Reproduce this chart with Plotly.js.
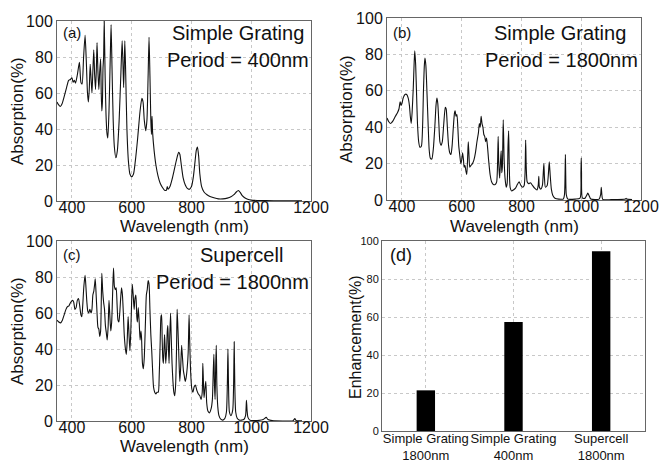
<!DOCTYPE html>
<html>
<head>
<meta charset="utf-8">
<script src="https://cdn.plot.ly/plotly-3.0.1.min.js"></script>
<style>html,body{margin:0;padding:0;background:#fff;}#chart{width:660px;height:466px;}</style>
</head>
<body>
<div id="chart"></div>
<script>
// Panel (a): Simple Grating, Period = 400nm
const wl_a = [350,355,361,367,374,382,389,395,400,404,408,412,418,425,430,434,439,444,448,452,455,458,461,464,467,470,473,476,479,482,484,487,490,493,496,498,500,502,504,506,508,511,514,517,520,524,528,531,534,538,542,547,552,558,564,568,571,573,575,577,580,584,589,594,600,606,612,620,628,634,638,642,647,651,655,658,661,664,666,668,670,675,681,688,695,703,710,716,719,722,728,735,742,750,757,761,766,772,779,786,793,800,806,812,816,820,824,828,834,842,852,862,875,890,905,920,932,942,950,957,963,970,978,988,1000,1020,1050,1100,1170];
const abs_a = [55,53.5,52.5,54,58,63,67,67.5,68.5,66,67,65.5,70,77,66,65,80,92,78,60,55,62,76,68,60,72,84,70,62,75,88,72,62,72,79,60,50,55,74,80,100,70,48,38,35,50,78,98,75,45,30,24,28,45,72,89,75,63,75,89,70,40,22,15,13.5,15,22,35,50,57,55,45,39,45,70,91,70,45,37,47,38,28,20,14,10,7.5,6,6,8,6.5,8,12,17,23,27,26,20,13,9,7,6.5,8,13,22,28,30,25,15,8,5,3.5,2.5,1.8,1.2,1.2,1.6,2.3,3.5,5,5.8,4.8,3,1.8,1,0.5,0.3,0.2,0.1,0.05];

// Panel (b): Simple Grating, Period = 1800nm
const wl_b = [350,356,362,370,378,385,390,394,397,400,404,410,416,421,425,428,431,434,438,441,443,446,449,452,456,460,465,469,472,475,477,480,484,488,491,495,500,505,510,514,517,520,523,527,531,535,540,545,548,552,556,560,564,568,572,576,578,581,584,587,590,594,597,600,603,606,608,611,614,617,620,622,624,627,631,636,641,646,651,656,659,662,665,668,671,674,677,680,683,686,690,695,700,706,712,717,720,722,724,727,730,732,734,736,739,742,745,749,752,755,757,759,762,767,773,780,786,792,798,804,809,812,814,816,819,824,830,837,844,852,856,858,860,865,870,873,875,877,880,886,890,893,896,900,905,912,925,940,944,946,947,948,950,955,980,996,999,1000,1001,1004,1013,1018,1022,1026,1032,1060,1065,1067,1069,1072,1100,1148,1150,1152,1170];
const abs_b = [45,43,42,43.5,46,48,50,54,52,53,56,58,58,56,52,46,42,48,62,76,82,74,58,42,32,29,29.5,40,60,74,78,74,58,40,28,23,22.5,28,40,52,56,53,44,32,30,32,42,51,50,40,30,26,25,30,40,48,49,46,47,40,30,24,20,22,26,22,18,19,16,14,24,32,26,18,19,20,22,26,32,37,42,40,46,42,40,36,35,32,34,30,22,14,10,8.5,8.5,10,20,35,20,12,22,27,15,18,44,22,12,7,9,30,38,20,7,5,5.5,6.5,8.5,10,8,7,8,15,33,18,10,9,9.5,8,6.5,5.5,8,13,7,6,8,15,20,12,7,8,14,21,14,6,2.5,1,0.5,0.5,3,15,25,15,3,0.5,0.5,1,15,23,15,1,1,2.5,3.8,2.5,0.5,0.5,3,7,3,0.3,0.2,0.5,1,0.5,0.2];

// Panel (c): Supercell, Period = 1800nm
const wl_c = [350,356,362,368,374,380,385,390,396,402,406,410,414,418,422,426,430,433,436,440,444,447,450,453,456,460,464,467,470,473,476,478,481,484,487,490,493,496,498,500,503,506,509,512,515,518,521,524,527,530,533,536,539,542,545,548,551,554,557,560,563,566,569,572,575,579,582,585,588,591,594,597,600,602,605,608,611,614,617,619,622,625,628,631,633,636,639,642,646,649,652,655,658,661,664,667,670,673,677,681,685,689,692,695,698,700,702,704,706,708,710,712,714,717,719,721,723,725,727,730,732,735,738,741,744,747,750,752,755,758,761,764,767,770,773,776,779,782,786,789,792,794,797,801,805,809,813,818,823,828,832,836,838,840,842,845,848,851,855,860,866,870,873,875,877,879,881,883,885,888,892,898,905,912,917,920,922,924,927,932,938,941,943,945,948,953,960,975,981,984,986,989,995,1010,1040,1050,1056,1070,1140,1146,1150,1170];
const abs_c = [56,55,54.5,56,59,62,63.5,64,66,67,66,62,63,67,68,64,59,58,64,75,81,74,66,61,60,62,60,62,70,72,76,79,70,60,52,51,47,50,65,82,72,66,62,53,49,45,52,67,58,50,55,70,85,75,73,74,65,56,55,60,68,74,70,60,48,40,37,45,58,48,39,50,68,76,70,62,68,70,58,55,63,55,45,50,46,32,29,35,55,70,73,78,76,62,48,39,28,19,16,15,16,16,25,42,58,59,45,35,32,40,48,40,32,40,50,53,40,32,45,60,48,32,22,16,14,20,40,62,50,35,22,30,42,35,28,25,22,24,30,38,59,45,28,18,16,19,20,17,15,14,12,16,32,22,13,18,22,10,5.5,4.5,7,12,28,37,20,12,30,42,20,8,3,1,0.5,1.5,5,20,40,20,5,3,6,20,44,20,5,1.5,0.5,0.8,3,11.5,6,2,0.5,0.2,0.8,2,0.8,0.2,0.2,1.3,0.3,0.1];

// Panel (d): enhancement
const categories = ["Simple Grating<br>1800nm", "Simple Grating<br>400nm", "Supercell<br>1800nm"];
const enhancement = [21.4, 57.4, 94.6];

const FONT = "Liberation Sans, Arial, sans-serif";
const W = 660, H = 466;
function dx(x0, x1){ return [x0/W, x1/W]; }
function dy(top, bottom){ return [1 - bottom/H, 1 - top/H]; }

const lineStyle = {color: "#111", width: 1.1, shape: "spline", smoothing: 0.6};
const traces = [
  {x: wl_a, y: abs_a, type: "scatter", mode: "lines", line: lineStyle, xaxis: "x", yaxis: "y", hoverinfo: "skip"},
  {x: wl_b, y: abs_b, type: "scatter", mode: "lines", line: lineStyle, xaxis: "x2", yaxis: "y2", hoverinfo: "skip"},
  {x: wl_c, y: abs_c, type: "scatter", mode: "lines", line: lineStyle, xaxis: "x3", yaxis: "y3", hoverinfo: "skip"},
  {x: categories, y: enhancement, type: "bar", marker: {color: "#000"}, xaxis: "x4", yaxis: "y4", hoverinfo: "skip"}
];

function wlAxis(dom, anchor){
  return {domain: dom, anchor: anchor, range: [350, 1200], tickvals: [400,600,800,1000,1200],
    showline: true, mirror: true, linecolor: "#666", linewidth: 1,
    showgrid: true, gridcolor: "#c8c8c8", griddash: "dot", gridwidth: 1,
    zeroline: false, ticks: "", ticklabelstandoff: -8, tickfont: {family: FONT, size: 16, color: "#111"},
    automargin: false};
}
function absAxis(dom, anchor){
  return {domain: dom, anchor: anchor, range: [0, 100], tickvals: [0,20,40,60,80,100],
    showline: true, mirror: true, linecolor: "#666", linewidth: 1,
    showgrid: true, gridcolor: "#c8c8c8", griddash: "dot", gridwidth: 1,
    zeroline: false, ticks: "", tickfont: {family: FONT, size: 16, color: "#111"},
    automargin: false};
}

const ann = [];
function A(text, px, py, size, xanchor, angle){
  ann.push({text: text, xref: "paper", yref: "paper", x: px/W, y: 1 - py/H, xanchor: xanchor || "center", yanchor: "middle",
    textangle: angle || 0, showarrow: false, font: {family: FONT, size: size, color: "#111"}});
}
// axis titles
A("Wavelength (nm)", 184, 226, 17);
A("Wavelength (nm)", 514, 226, 17);
A("Wavelength (nm)", 184, 446, 17);
A("Absorption(%)", 17, 111, 17, "center", -90);
A("Absorption(%)", 347, 109, 17, "center", -90);
A("Absorption(%)", 17, 331, 17, "center", -90);
A("Enhancement(%)", 355, 337, 16, "center", -90);
// panel labels
A("(a)", 72, 33, 15);
A("Simple Grating", 306, 33, 20, "right");
A("Period = 400nm", 311, 60, 20, "right");
A("(b)", 402, 32, 15);
A("Simple Grating", 628, 33, 20, "right");
A("Period = 1800nm", 640, 60, 20, "right");
A("(c)", 72, 255, 15);
A("Supercell", 242, 255, 20);
A("Period = 1800nm", 311, 282, 20, "right");
A("(d)", 401, 255, 18);

const layout = {
  width: W, height: H, margin: {l: 0, r: 0, t: 0, b: 0},
  paper_bgcolor: "#fff", plot_bgcolor: "#fff", showlegend: false,
  xaxis: wlAxis(dx(57, 311), "y"),
  yaxis: absAxis(dy(21, 201), "x"),
  xaxis2: wlAxis(dx(387, 641), "y2"),
  yaxis2: absAxis(dy(18, 200), "x2"),
  xaxis3: wlAxis(dx(57, 311), "y3"),
  yaxis3: absAxis(dy(241, 421), "x3"),
  xaxis4: {domain: dx(382, 645), anchor: "y4", range: [-0.5, 2.5], tickangle: 0,
    showline: true, mirror: true, linecolor: "#666", linewidth: 1,
    showgrid: true, gridcolor: "#c8c8c8", griddash: "dot", ticks: "", ticklabelstandoff: -5,
    tickfont: {family: FONT, size: 13, color: "#111"}, automargin: false},
  yaxis4: {domain: dy(241, 431), anchor: "x4", range: [0, 100], tickvals: [0,20,40,60,80,100],
    showline: true, mirror: true, linecolor: "#666", linewidth: 1,
    showgrid: true, gridcolor: "#c8c8c8", griddash: "dot", zeroline: false, ticks: "",
    tickfont: {family: FONT, size: 11, color: "#111"}, automargin: false},
  bargap: 0.79,
  annotations: ann
};

Plotly.newPlot("chart", traces, layout, {staticPlot: true, displayModeBar: false});
</script>
</body>
</html>
